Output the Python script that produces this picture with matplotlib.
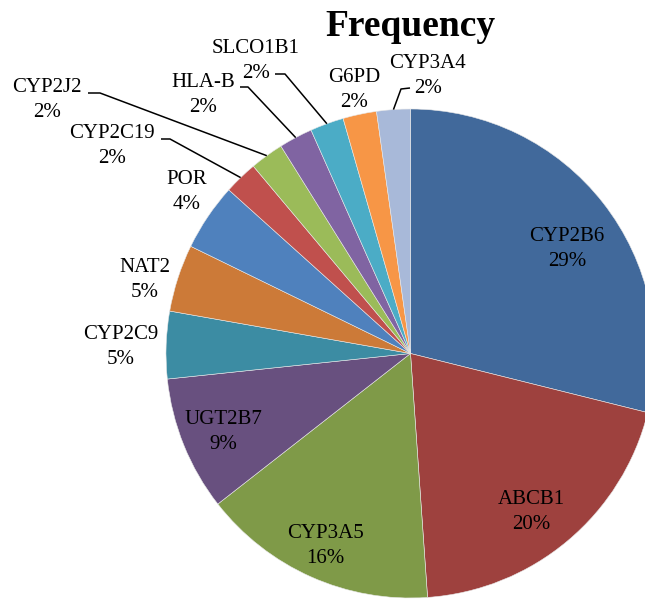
import numpy as np
import matplotlib
matplotlib.use("Agg")
import matplotlib.pyplot as plt

# ---- data ----
genes = ["CYP2B6", "ABCB1", "CYP3A5", "UGT2B7", "CYP2C9", "NAT2", "POR",
         "CYP2C19", "CYP2J2", "HLA-B", "SLCO1B1", "G6PD", "CYP3A4"]
counts = [13, 9, 7, 4, 2, 2, 2, 1, 1, 1, 1, 1, 1]
pct_labels = ["29%", "20%", "16%", "9%", "5%", "5%", "4%",
              "2%", "2%", "2%", "2%", "2%", "2%"]
title = "Frequency"

# ---- style ----
colors = ["#41699B", "#9E413E", "#7F9A48", "#68507F", "#3C8CA3", "#CC7A38",
          "#4F81BD", "#C0504D", "#9BBB59", "#8064A2", "#4BACC6", "#F79646",
          "#A8B9D9"]
W, H = 645, 599
CX, CY, R = 410.5, 353.5, 244.5  # pie center / radius in pixels

# label block centres (pixels) and leader polyline starts (pixels) or None
label_pos = [(567, 249), (531, 512), (325, 546), (223, 432), (121, 347),
             (145, 280), (187, 192), (112, 146), (47, 100), (203, 95),
             (256, 61), (354, 90), (428, 76)]
leaders = [None, None, None, None, None, None, None,
           [(161, 139), (170, 139)],
           [(88, 93), (100, 93)],
           [(240, 87), (248, 87)],
           [(275, 74), (285, 74)],
           None,
           [(410, 88), (401, 89)]]


def px(x, y):
    return (x - CX) / R, (CY - y) / R


plt.rcParams["font.family"] = ["Liberation Serif", "DejaVu Serif"]
fig = plt.figure(figsize=(W / 100, H / 100), dpi=100)
ax = fig.add_axes([0, 0, 1, 1])
ax.axis("off")

wedges, _ = ax.pie(counts, colors=colors, startangle=90, counterclock=False,
                   radius=1, center=(0, 0),
                   wedgeprops=dict(edgecolor="#e8e8e8", linewidth=0.4))
ax.set_xlim(-CX / R, (W - CX) / R)
ax.set_ylim((CY - H) / R, CY / R)
ax.set_aspect("auto")

for w, g, p, pos, ld in zip(wedges, genes, pct_labels, label_pos, leaders):
    tx, ty = px(*pos)
    ax.text(tx, ty, f"{g}\n{p}", ha="center", va="center", fontsize=15,
            linespacing=1.38, color="black")
    if ld is not None:
        mid = np.deg2rad((w.theta1 + w.theta2) / 2)
        pts = [px(*q) for q in ld] + [(np.cos(mid), np.sin(mid))]
        xs, ys = zip(*pts)
        ax.plot(xs, ys, color="black", lw=1.1, solid_capstyle="butt")

tx, ty = px(410, 27)
ax.text(tx, ty, title, ha="center", va="center", fontsize=27,
        fontweight="bold")

fig.savefig("out.png", dpi=100)
